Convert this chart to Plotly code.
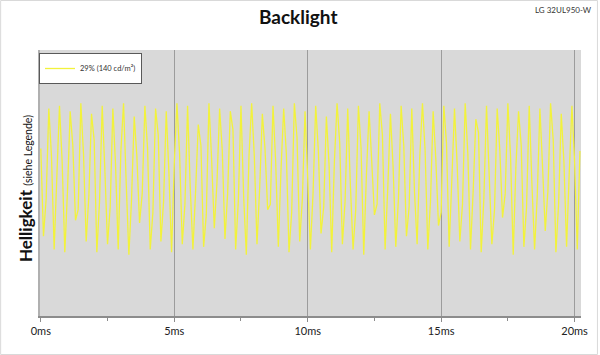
import plotly.graph_objects as go

# --- data -------------------------------------------------------------
time_step_ms = 0.1
brightness = [
    63, 30, 44, 78, 60, 25, 52, 79, 58, 24, 47, 77, 64, 36, 40, 80, 61, 28, 45, 76,
    66, 24, 43, 79, 55, 27, 41, 78, 57, 25, 62, 80, 50, 23, 44, 75, 60, 35, 46, 79,
    63, 25, 39, 78, 68, 28, 43, 77, 54, 24, 57, 80, 61, 27, 42, 79, 48, 25, 47, 72,
    64, 26, 38, 80, 59, 33, 50, 78, 62, 29, 46, 77, 70, 25, 43, 79, 45, 23, 60, 80,
    60, 27, 48, 76, 63, 40, 42, 79, 58, 26, 55, 78, 61, 24, 39, 80, 67, 28, 44, 77,
    52, 25, 46, 79, 62, 31, 41, 75, 57, 24, 58, 80, 65, 27, 43, 78, 49, 25, 40, 79,
    63, 23, 53, 77, 58, 38, 42, 80, 68, 25, 48, 76, 56, 26, 44, 79, 64, 30, 41, 78,
    47, 27, 60, 80, 62, 25, 43, 77, 59, 34, 39, 79, 65, 26, 51, 78, 57, 28, 42, 80,
    61, 25, 47, 74, 69, 24, 44, 79, 53, 27, 40, 78, 62, 37, 46, 80, 60, 23, 56, 77,
    64, 26, 41, 79, 50, 25, 45, 78, 56, 32, 47, 80, 66, 24, 42, 76, 58, 26, 54, 79,
    58, 25, 62,
]
time_ms = [i * time_step_ms for i in range(len(brightness))]

series_name = "29% (140 cd/m²)"
tick_values = [0, 5, 10, 15, 20]
tick_labels = ["0ms", "5ms", "10ms", "15ms", "20ms"]
title_text = "Backlight"
device_text = "LG 32UL950-W"

# --- layout geometry (pixels) -----------------------------------------
W, H = 600, 355
L, R, T, B = 40, 17, 50, 39
pw, ph = W - L - R, H - T - B

FONT = "Lato"

fig = go.Figure()
fig.add_trace(go.Scatter(
    x=time_ms, y=brightness, mode="lines", name=series_name,
    line=dict(color="#f2f23c", width=1.3),
    showlegend=True,
))

fig.update_layout(
    width=W, height=H,
    margin=dict(l=L, r=R, t=T, b=B),
    paper_bgcolor="white",
    plot_bgcolor="#d9d9d9",
    font=dict(family=FONT, color="#222"),
    title=dict(text=f"<b>{title_text}</b>", x=0.497, xref="container", xanchor="center",
               y=1 - 17 / H, yref="container", yanchor="middle",
               font=dict(size=19, family=FONT, color="#111")),
    showlegend=True,
    legend=dict(x=-1 / pw, y=1 - 3 / ph, xanchor="left", yanchor="top",
                bgcolor="white", bordercolor="#595959", borderwidth=1,
                font=dict(size=7.5, family=FONT, color="#333"),
                itemwidth=30),
    xaxis=dict(range=[-0.03, 20.24], tickvals=tick_values, ticktext=tick_labels,
               showgrid=True, gridcolor="#9c9c9c", gridwidth=1,
               zeroline=False, showline=True, linecolor="#8c8c8c", linewidth=1.5,
               ticks="outside", ticklen=4, tickcolor="#8c8c8c",
               minor=dict(dtick=2.5, tick0=0, ticks="outside", ticklen=3,
                          tickcolor="#8c8c8c", showgrid=False),
               tickfont=dict(size=11, family=FONT, color="#222")),
    yaxis=dict(range=[0, 100], showticklabels=False, showgrid=False, zeroline=False,
               showline=True, linecolor="#b0b0b0", linewidth=1.5, ticks=""),
)

# Y-axis title
fig.add_annotation(
    text="<b>Helligkeit</b> <span style='font-size:10.5px'>(siehe Legende)</span>",
    xref="paper", yref="paper", x=(26 - L) / pw, y=(T + ph - 189) / ph,
    textangle=-90, showarrow=False, xanchor="center", yanchor="middle",
    font=dict(size=17, family=FONT, color="#111"),
)
# device label top right
fig.add_annotation(
    text=device_text, xref="paper", yref="paper",
    x=(596 - L) / pw, y=(T + ph - 10) / ph, xanchor="right", yanchor="middle",
    showarrow=False, font=dict(size=8, family=FONT, color="#333"),
)
# outer chart border
fig.add_shape(type="rect", xref="paper", yref="paper",
              x0=(0.5 - L) / pw, x1=(W - 0.5 - L) / pw,
              y0=(T + ph - (H - 0.5)) / ph, y1=(T + ph - 0.5) / ph,
              line=dict(color="#d9d9d9", width=1), layer="below")

fig.write_html("out.html")
